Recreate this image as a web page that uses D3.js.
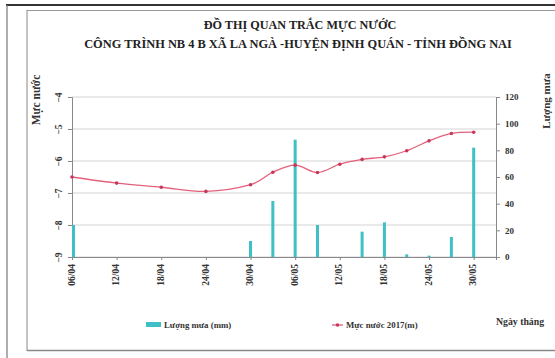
<!DOCTYPE html>
<html>
<head>
<meta charset="utf-8">
<script src="https://cdn.jsdelivr.net/npm/d3@7"></script>
<style>
  html, body { margin: 0; padding: 0; background: #fff; }
  svg { display: block; font-family: "Liberation Serif", "Times New Roman", serif; }
</style>
</head>
<body>
<svg id="chart" width="555" height="358"></svg>
<script>
// Observation dates (dd/mm, 2017)
const obsDates = ["06/04","12/04","18/04","24/04","30/04","03/05","06/05","09/05","12/05","15/05","18/05","21/05","24/05","27/05","30/05"];
// Water level 2017 (m)
const waterLevel = [-6.50,-6.69,-6.82,-6.95,-6.74,-6.35,-6.13,-6.36,-6.10,-5.95,-5.87,-5.68,-5.37,-5.14,-5.10];
// Rainfall (mm)
const rainfall = [24,0,0,0,12,42,88,24,0,19,26,2,1,15,82];
// Axis ticks
const xTickLabels = ["06/04","12/04","18/04","24/04","30/04","06/05","12/05","18/05","24/05","30/05"];
const levelTicks = [-4,-5,-6,-7,-8,-9];
const rainTicks = [0,20,40,60,80,100,120];

const parse = s => { const [d, m] = s.split("/").map(Number); return new Date(2017, m - 1, d); };

const svg = d3.select("#chart");
const plot = { left: 72, right: 496, top: 97, bottom: 257 };

const x = d3.scaleTime().domain([parse("06/04"), parse("02/06")]).range([plot.left, plot.right]);
const yLevel = d3.scaleLinear().domain([-9, -4]).range([plot.bottom, plot.top]);
const yRain = d3.scaleLinear().domain([0, 120]).range([plot.bottom, plot.top]);

// Page frame
svg.append("line").attr("x1", 6).attr("x2", 555).attr("y1", 5).attr("y2", 5)
  .attr("stroke", "#333").attr("stroke-width", 2);
svg.append("line").attr("x1", 7).attr("x2", 7).attr("y1", 5).attr("y2", 358)
  .attr("stroke", "#777").attr("stroke-width", 1.2);
svg.append("line").attr("x1", 27).attr("x2", 555).attr("y1", 10.5).attr("y2", 10.5)
  .attr("stroke", "#999").attr("stroke-width", 1);
svg.append("line").attr("x1", 27).attr("x2", 27).attr("y1", 10).attr("y2", 351)
  .attr("stroke", "#888").attr("stroke-width", 1);
svg.append("line").attr("x1", 27).attr("x2", 555).attr("y1", 350.5).attr("y2", 350.5)
  .attr("stroke", "#888").attr("stroke-width", 1.5);

// Title
const title = svg.append("g").attr("font-weight", "bold").attr("fill", "#222").attr("text-anchor", "middle");
title.append("text").attr("x", 300).attr("y", 29).attr("font-size", 12.2).text("ĐỒ THỊ QUAN TRẮC MỰC NƯỚC");
title.append("text").attr("x", 298).attr("y", 48).attr("font-size", 12.4)
  .text("CÔNG TRÌNH NB 4 B XÃ LA NGÀ -HUYỆN ĐỊNH QUÁN - TỈNH ĐỒNG NAI");

// Horizontal gridlines
svg.append("g").selectAll("line").data(levelTicks).join("line")
  .attr("x1", plot.left).attr("x2", plot.right)
  .attr("y1", d => yLevel(d)).attr("y2", d => yLevel(d))
  .attr("stroke", "#d4d4d4").attr("stroke-width", 1);

// Left axis (water level)
const leftAxis = svg.append("g").attr("transform", `translate(${plot.left},0)`)
  .call(d3.axisLeft(yLevel).tickValues(levelTicks).tickSize(4).tickFormat(d3.format("d")));
leftAxis.select(".domain").attr("stroke", "#888");
leftAxis.selectAll(".tick line").attr("stroke", "#888");
leftAxis.selectAll(".tick text")
  .attr("font-family", "Liberation Serif, serif").attr("font-size", 9.5).attr("font-weight", "bold")
  .attr("fill", "#333").attr("x", 0).attr("dy", 0).attr("text-anchor", "middle")
  .attr("transform", "translate(-12,0) rotate(-90)").attr("dominant-baseline", "middle");

// Right axis (rainfall)
const rightAxis = svg.append("g").attr("transform", `translate(${plot.right},0)`)
  .call(d3.axisRight(yRain).tickValues(rainTicks).tickSize(4));
rightAxis.select(".domain").attr("stroke", "#888");
rightAxis.selectAll(".tick line").attr("stroke", "#888");
rightAxis.selectAll(".tick text")
  .attr("font-family", "Liberation Serif, serif").attr("font-size", 9).attr("font-weight", "bold")
  .attr("fill", "#333").attr("x", 9);

// Bottom axis (dates)
const bottomAxis = svg.append("g").attr("transform", `translate(0,${plot.bottom})`)
  .call(d3.axisBottom(x).tickValues(xTickLabels.map(parse)).tickSize(3).tickFormat(d3.timeFormat("%d/%m")));
bottomAxis.select(".domain").attr("stroke", "#888");
bottomAxis.selectAll(".tick line").attr("stroke", "#888");
bottomAxis.selectAll(".tick text")
  .attr("font-family", "Liberation Serif, serif").attr("font-size", 9.5).attr("font-weight", "bold")
  .attr("fill", "#333").attr("y", 0).attr("dy", 0)
  .attr("text-anchor", "end").attr("dominant-baseline", "middle")
  .attr("transform", "translate(0,7) rotate(-90)");

// Rainfall bars
const barW = 3;
svg.append("g").selectAll("rect").data(obsDates.map((d, i) => ({ date: parse(d), v: rainfall[i] })))
  .join("rect")
  .attr("x", d => Math.max(plot.left, x(d.date) - barW / 2))
  .attr("width", barW)
  .attr("y", d => yRain(d.v))
  .attr("height", d => yRain(0) - yRain(d.v))
  .attr("fill", "#3fbfc6");

// Water level line
const pts = obsDates.map((d, i) => ({ date: parse(d), v: waterLevel[i] }));
svg.append("path").datum(pts)
  .attr("fill", "none").attr("stroke", "#e4607c").attr("stroke-width", 1.3)
  .attr("d", d3.line().x(d => x(d.date)).y(d => yLevel(d.v)).curve(d3.curveCatmullRom.alpha(0)));
svg.append("g").selectAll("circle").data(pts).join("circle")
  .attr("cx", d => x(d.date)).attr("cy", d => yLevel(d.v)).attr("r", 1.8)
  .attr("fill", "#c8385a");

// Axis titles
svg.append("text").attr("transform", "translate(40,100) rotate(-90)")
  .attr("text-anchor", "middle").attr("font-size", 11.5).attr("font-weight", "bold").attr("fill", "#333")
  .text("Mực nước");
svg.append("text").attr("transform", "translate(550,101) rotate(-90)")
  .attr("text-anchor", "middle").attr("font-size", 11).attr("font-weight", "bold").attr("fill", "#333")
  .text("Lượng mưa");
svg.append("text").attr("x", 520).attr("y", 325)
  .attr("text-anchor", "middle").attr("font-size", 9.8).attr("font-weight", "bold").attr("fill", "#333")
  .text("Ngày tháng");

// Legend
const legend = svg.append("g").attr("font-size", 8.8).attr("font-weight", "bold").attr("fill", "#333");
legend.append("rect").attr("x", 146).attr("y", 322).attr("width", 15).attr("height", 5).attr("fill", "#3fbfc6");
legend.append("text").attr("x", 164).attr("y", 328).text("Lượng mưa (mm)");
legend.append("line").attr("x1", 332).attr("x2", 343).attr("y1", 325).attr("y2", 325)
  .attr("stroke", "#e4607c").attr("stroke-width", 1.3);
legend.append("circle").attr("cx", 337.5).attr("cy", 325).attr("r", 1.8).attr("fill", "#c8385a");
legend.append("text").attr("x", 346).attr("y", 328).text("Mực nước 2017(m)");
</script>
</body>
</html>
